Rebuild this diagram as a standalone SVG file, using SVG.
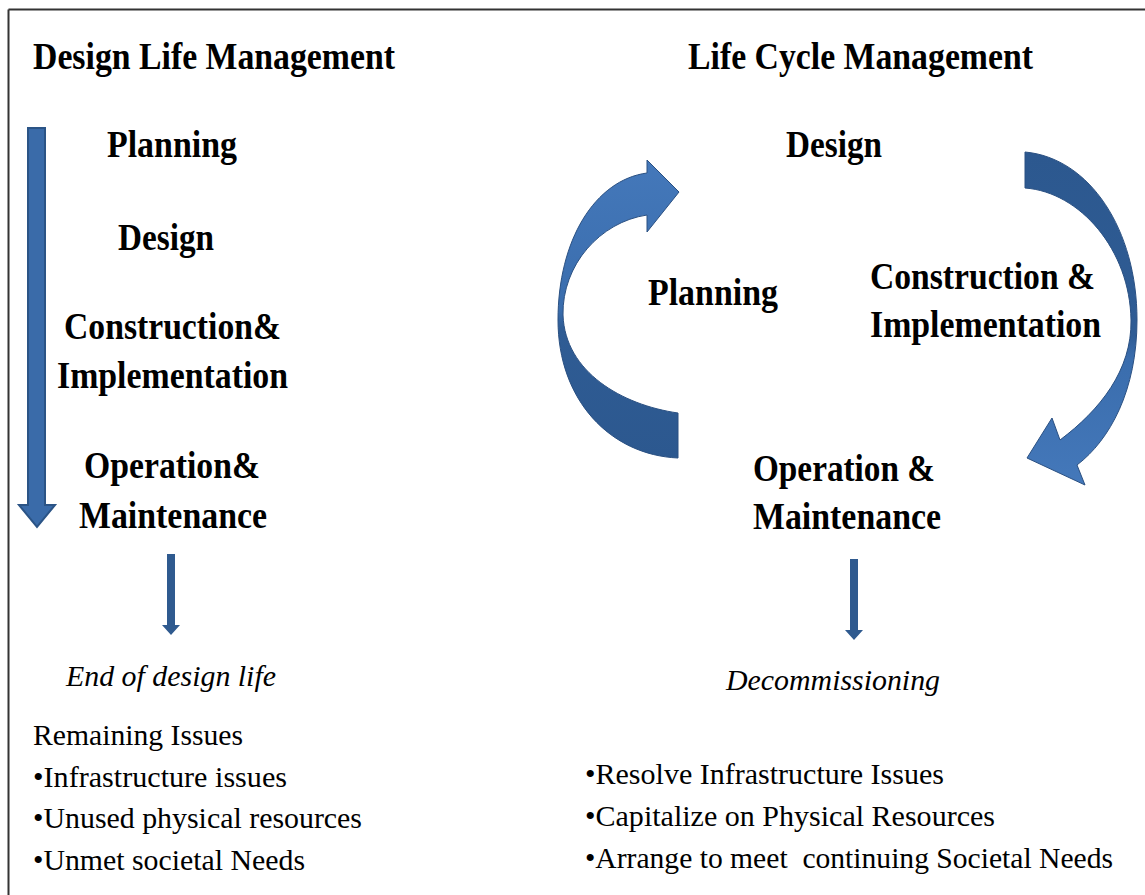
<svg xmlns="http://www.w3.org/2000/svg" width="1145" height="895" viewBox="0 0 1145 895">
<defs>
<style>
.b{font-family:"Liberation Serif","Times New Roman",serif;font-weight:bold;font-size:38px;fill:#000}
.n{font-family:"Liberation Serif","Times New Roman",serif;font-size:30px;fill:#000}
.i{font-family:"Liberation Serif","Times New Roman",serif;font-style:italic;font-size:30px;fill:#000}
.arr{fill:#3a6ba9;stroke:#2b5486;stroke-width:2}
.sm{fill:#2f5a8f}
</style>
<linearGradient id="gl" gradientUnits="userSpaceOnUse" x1="0" y1="160" x2="0" y2="460">
<stop offset="0" stop-color="#4478ba"/>
<stop offset="0.5" stop-color="#3a6dad"/>
<stop offset="0.56" stop-color="#2f5c94"/>
<stop offset="1" stop-color="#2c588f"/>
</linearGradient>
<linearGradient id="gr" gradientUnits="userSpaceOnUse" x1="0" y1="152" x2="0" y2="485">
<stop offset="0" stop-color="#2c588f"/>
<stop offset="0.55" stop-color="#2f5c94"/>
<stop offset="0.62" stop-color="#3a6dad"/>
<stop offset="1" stop-color="#4478ba"/>
</linearGradient>
</defs>
<rect width="1145" height="895" fill="#fff"/>
<g id="frame" fill="none" stroke="#333" stroke-width="2">
<path d="M8.5,9.5 H1145 M8.5,9.5 V895"/>
</g>

<g id="connectors">
<path class="arr" d="M28,128 H45 V505 H55 L37,527 L19,505 H28 Z"/>
<path class="sm" d="M167,554 H175 V625 H180 L171,635 L162,625 H167 Z"/>
<path class="sm" d="M850,559 H858 V630 H863 L854,640 L845,630 H850 Z"/>
<path id="cycle-left" fill="url(#gl)" stroke="#2a5082" stroke-width="1" d="M678,458 L678,413 C622,405 565,372 563,315 C562,265 600,222 647,215 L647,232 L679,192 L647,160 L647,173 C595,180 558,240 558,320 C558,400 610,455 678,458 Z"/>
<path id="cycle-right" fill="url(#gr)" stroke="#2a5082" stroke-width="1" d="M1025,152 C1090,158 1137,230 1137,320 C1137,390 1110,440 1077,465 L1085,485 L1027,458 L1052,418 L1060,440 C1100,410 1132,370 1131,320 C1130,250 1080,192 1025,188 Z"/>
</g>

<g id="left-title"><text class="b" x="33" y="69" textLength="362" lengthAdjust="spacingAndGlyphs">Design Life Management</text></g>
<g id="left-planning"><text class="b" x="107" y="157" textLength="130" lengthAdjust="spacingAndGlyphs">Planning</text></g>
<g id="left-design"><text class="b" x="118" y="250" textLength="96" lengthAdjust="spacingAndGlyphs">Design</text></g>
<g id="left-construction">
<text class="b" x="64" y="339" textLength="217" lengthAdjust="spacingAndGlyphs">Construction&amp;</text>
<text class="b" x="57" y="388" textLength="231" lengthAdjust="spacingAndGlyphs">Implementation</text>
</g>
<g id="left-operation">
<text class="b" x="84" y="478" textLength="176" lengthAdjust="spacingAndGlyphs">Operation&amp;</text>
<text class="b" x="79" y="528" textLength="188" lengthAdjust="spacingAndGlyphs">Maintenance</text>
</g>
<g id="left-end"><text class="i" x="66" y="686" textLength="210" lengthAdjust="spacingAndGlyphs">End of design life</text></g>
<g id="left-issues">
<text class="n" x="33" y="745" textLength="210" lengthAdjust="spacingAndGlyphs">Remaining Issues</text>
<text class="n" x="33" y="787" textLength="254" lengthAdjust="spacingAndGlyphs">•Infrastructure issues</text>
<text class="n" x="33" y="828" textLength="329" lengthAdjust="spacingAndGlyphs">•Unused physical resources</text>
<text class="n" x="33" y="870" textLength="272" lengthAdjust="spacingAndGlyphs">•Unmet societal Needs</text>
</g>

<g id="right-title"><text class="b" x="688" y="69" textLength="345" lengthAdjust="spacingAndGlyphs">Life Cycle Management</text></g>
<g id="right-design"><text class="b" x="786" y="157" textLength="96" lengthAdjust="spacingAndGlyphs">Design</text></g>
<g id="right-planning"><text class="b" x="648" y="305" textLength="130" lengthAdjust="spacingAndGlyphs">Planning</text></g>
<g id="right-construction">
<text class="b" x="870" y="289" textLength="225" lengthAdjust="spacingAndGlyphs">Construction &amp;</text>
<text class="b" x="870" y="337" textLength="231" lengthAdjust="spacingAndGlyphs">Implementation</text>
</g>
<g id="right-operation">
<text class="b" x="753" y="481" textLength="182" lengthAdjust="spacingAndGlyphs">Operation &amp;</text>
<text class="b" x="753" y="529" textLength="188" lengthAdjust="spacingAndGlyphs">Maintenance</text>
</g>
<g id="right-decommissioning"><text class="i" x="726" y="690" textLength="214" lengthAdjust="spacingAndGlyphs">Decommissioning</text></g>
<g id="right-actions">
<text class="n" x="585" y="784" textLength="359" lengthAdjust="spacingAndGlyphs">•Resolve Infrastructure Issues</text>
<text class="n" x="585" y="826" textLength="410" lengthAdjust="spacingAndGlyphs">•Capitalize on Physical Resources</text>
<text class="n" x="585" y="868" textLength="528" lengthAdjust="spacingAndGlyphs" xml:space="preserve">•Arrange to meet  continuing Societal Needs</text>
</g>
</svg>
